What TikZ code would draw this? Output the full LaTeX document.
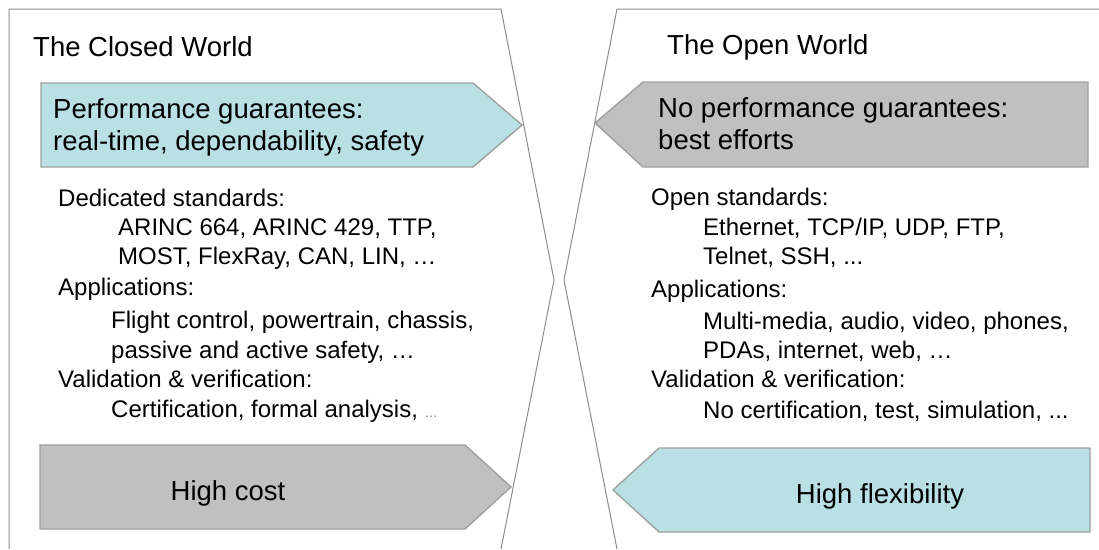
\documentclass[tikz,border=0pt]{standalone}
\usepackage{fontspec}
\setmainfont{Liberation Sans}
\definecolor{cyanfill}{RGB}{185,224,228}
\definecolor{grayfill}{RGB}{192,192,192}
\definecolor{arrowline}{RGB}{160,160,160}
\definecolor{outline}{RGB}{140,140,140}
\definecolor{dotgray}{RGB}{110,110,110}
\begin{document}
\begin{tikzpicture}[x=1pt,y=-1pt,
  worldline/.style={draw=outline,line width=1pt,line join=miter},
  cyanarrow/.style={draw=arrowline,fill=cyanfill,line width=1.4pt},
  grayarrow/.style={draw=arrowline,fill=grayfill,line width=1.4pt},
  titletext/.style={anchor=base west,inner sep=0pt,font=\fontsize{27.5}{30}\selectfont},
  bigtext/.style={anchor=base west,inner sep=0pt,font=\fontsize{27.5}{30}\selectfont},
  bodytext/.style={anchor=base west,inner sep=0pt,font=\fontsize{24}{28}\selectfont},
  ctrtext/.style={anchor=base,inner sep=0pt,font=\fontsize{27.5}{30}\selectfont}]
\useasboundingbox[fill=white] (0,0) rectangle (1099,549);
% world outlines
\draw[worldline] (9,549) -- (9,9) -- (501,9) -- (554,280) -- (501,549);
\draw[worldline] (1099,9) -- (617,9) -- (564,280) -- (617,549);
% arrows
\path[cyanarrow] (41,83) -- (473,83) -- (522,125) -- (473,167) -- (41,167) -- cycle;
\path[grayarrow] (1088,82) -- (643,82) -- (595,123) -- (643,167) -- (1088,167) -- cycle;
\path[grayarrow] (40,445) -- (465,445) -- (511,487) -- (465,529) -- (40,529) -- cycle;
\path[cyanarrow] (1090,448) -- (659,448) -- (613,490) -- (659,532) -- (1090,532) -- cycle;
% titles
\node[titletext] (tclosed) at (33,56) {The Closed World};
\node[titletext] (topen) at (667,54) {The Open World};
% arrow texts
\node[bigtext] (pg1) at (53,118) {Performance guarantees:};
\node[bigtext] (pg2) at (53,150) {real-time, dependability, safety};
\node[bigtext] (npg1) at (658,117) {No performance guarantees:};
\node[bigtext] (npg2) at (658,149) {best efforts};
\node[ctrtext] (cost) at (228,500) {High cost};
\node[ctrtext] (flex) at (880,503) {High flexibility};
% left body
\node[bodytext] (l1) at (58,206) {Dedicated standards:};
\node[bodytext] (l2) at (118,235) {ARINC 664, ARINC 429, TTP,};
\node[bodytext] (l3) at (118,264) {MOST, FlexRay, CAN, LIN, …};
\node[bodytext] (l4) at (58,295) {Applications:};
\node[bodytext] (l5) at (111,328) {Flight control, powertrain, chassis,};
\node[bodytext] (l6) at (111,358) {passive and active safety, …};
\node[bodytext] (l7) at (58,387) {Validation \& verification:};
\node[bodytext] (l8) at (111,417) {Certification, formal analysis, {\fontsize{13}{13}\selectfont\color{dotgray}…}};
% right body
\node[bodytext] (r1) at (651,205) {Open standards:};
\node[bodytext] (r2) at (703,235) {Ethernet, TCP/IP, UDP, FTP,};
\node[bodytext] (r3) at (703,264) {Telnet, SSH, ...};
\node[bodytext] (r4) at (651,297) {Applications:};
\node[bodytext] (r5) at (703,329) {Multi-media, audio, video, phones,};
\node[bodytext] (r6) at (703,358) {PDAs, internet, web, …};
\node[bodytext] (r7) at (651,387) {Validation \& verification:};
\node[bodytext] (r8) at (703,418) {No certification, test, simulation, ...};
\end{tikzpicture}
\end{document}
